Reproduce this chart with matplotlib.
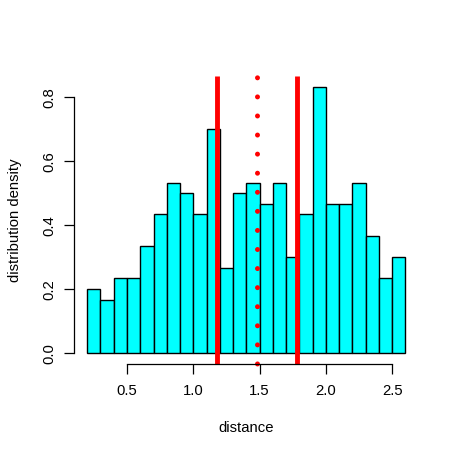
import numpy as np
import matplotlib
matplotlib.use("Agg")
import matplotlib.pyplot as plt

# histogram of distances (counts per 0.1 bin, n = 300)
bin_edges = np.round(np.arange(0.2, 2.61, 0.1), 2)
counts = [6, 5, 7, 7, 10, 13, 16, 15, 13, 21, 8, 15,
          16, 14, 16, 9, 13, 25, 14, 14, 16, 11, 7, 9]
mean_dist = 1.479
band = [1.179, 1.779]

xticks = [0.5, 1.0, 1.5, 2.0, 2.5]
yticks = [0.0, 0.2, 0.4, 0.6, 0.8]

plt.rcParams['font.family'] = ['Liberation Sans', 'DejaVu Sans']

fig = plt.figure(figsize=(4.57, 4.57), dpi=100)
ax = fig.add_axes([0.163, 0.204, 0.752, 0.630])

centers = (bin_edges[:-1] + bin_edges[1:]) / 2
ax.hist(centers, bins=bin_edges, weights=counts, density=True,
        color="cyan", edgecolor="black", linewidth=1.0)

for v in band:
    ax.axvline(v, color="red", linewidth=3.5, solid_capstyle="butt")
# dotted line drawn top -> bottom so the dots start at the top like R
ax.plot([mean_dist, mean_dist], [1, -0.005], transform=ax.get_xaxis_transform(),
        color="red", linewidth=3.6, linestyle=(3.55, (0.001, 3.814)),
        dash_capstyle="round", clip_on=False)

ax.set_xlim(0.104, 2.696)
ax.set_ylim(-0.0333, 0.8667)

for s in ["top", "right"]:
    ax.spines[s].set_visible(False)
ax.spines["left"].set_bounds(0, 0.8)
ax.spines["bottom"].set_bounds(0.5, 2.5)
ax.spines["left"].set_linewidth(0.9)
ax.spines["bottom"].set_linewidth(0.9)

ax.set_xticks(xticks)
ax.set_xticklabels(["0.5", "1.0", "1.5", "2.0", "2.5"])
ax.set_yticks(yticks)
ax.set_yticklabels(["0.0", "0.2", "0.4", "0.6", "0.8"], rotation=90, va="center")
ax.tick_params(length=7, width=0.9, labelsize=10.7)
ax.tick_params(axis="x", pad=7.8)
ax.tick_params(axis="y", pad=6.3)

ax.set_xlabel("distance", fontsize=10.7, labelpad=16.5)
ax.set_ylabel("distribution density", fontsize=10.7, labelpad=14.5)

fig.savefig("out.png", dpi=100)
